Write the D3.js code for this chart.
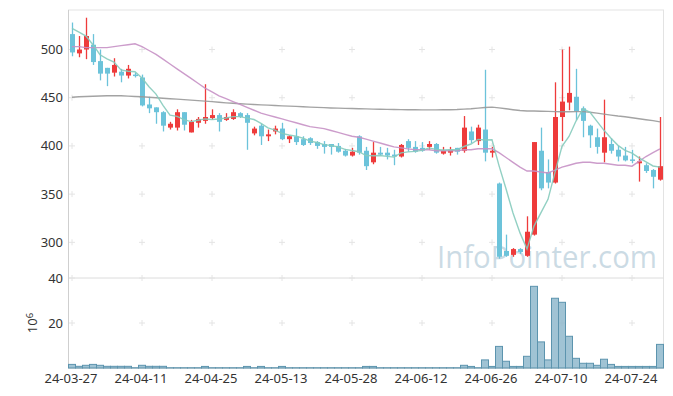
<!DOCTYPE html>
<html>
<head>
<meta charset="utf-8">
<script src="https://cdn.jsdelivr.net/npm/d3@7"></script>
<style>
  body { margin: 0; background: #fff; }
  text { font-family: "Noto Sans", sans-serif; fill: #333; }
</style>
</head>
<body>
<div id="chart"></div>
<script>
// trading days, 24-03-27 .. 24-07-30
const dates = ["24-03-27","24-03-28","24-03-29","24-04-01","24-04-02","24-04-03","24-04-04","24-04-05","24-04-08","24-04-09",
  "24-04-11","24-04-12","24-04-15","24-04-16","24-04-17","24-04-18","24-04-19","24-04-22","24-04-23","24-04-24",
  "24-04-25","24-04-26","24-04-29","24-04-30","24-05-02","24-05-03","24-05-07","24-05-08","24-05-09","24-05-10",
  "24-05-13","24-05-14","24-05-16","24-05-17","24-05-20","24-05-21","24-05-22","24-05-23","24-05-24","24-05-27",
  "24-05-28","24-05-29","24-05-30","24-05-31","24-06-03","24-06-04","24-06-05","24-06-07","24-06-10","24-06-11",
  "24-06-12","24-06-13","24-06-14","24-06-17","24-06-18","24-06-19","24-06-20","24-06-21","24-06-24","24-06-25",
  "24-06-26","24-06-27","24-06-28","24-07-01","24-07-02","24-07-03","24-07-04","24-07-05","24-07-08","24-07-09",
  "24-07-10","24-07-11","24-07-12","24-07-15","24-07-16","24-07-17","24-07-18","24-07-19","24-07-22","24-07-23",
  "24-07-24","24-07-25","24-07-26","24-07-29","24-07-30"];

const open  = [516,496,500,505,488,481,476,477,473,474, 471,443,440,435,419,419,435,414,424,426,
               429,432,427,428,434,432,413,421,410,415, 418,407,410,407,408,404,402,402,400,395,
               390,410,395,383,393,393,391,389,405,399, 398,399,402,392,393,398,395,415,405,417,
               393,361,291,287,293,286,308,395,373,362, 430,445,451,439,421,409,393,402,396,390,
               386,382,380,375,365];
const high  = [528,514,533,516,500,481,491,480,484,476, 474,451,440,436,425,438,435,427,430,464,
               438,434,434,438,435,434,420,423,417,421, 424,411,418,410,409,405,405,402,403,397,
               398,411,399,404,399,398,396,402,407,405, 404,405,403,399,399,398,431,420,422,479,
               399,362,308,294,294,327,404,419,386,466, 500,503,480,441,422,418,448,408,400,399,
               396,389,382,376,430];
const low   = [493,492,490,484,468,462,472,466,470,471, 441,434,423,415,417,416,416,414,419,423,
               427,415,426,427,429,396,411,401,405,412, 406,403,401,400,401,397,392,391,393,389,
               389,391,375,381,390,386,380,388,394,393, 394,396,392,391,390,391,393,403,401,384,
               388,283,285,285,288,285,307,354,356,361, 405,437,427,409,398,392,383,392,384,384,
               382,363,372,356,364];
const close = [497,500,514,487,475,475,484,473,480,473, 442,439,435,421,423,435,422,425,428,430,
               432,425,430,435,430,424,418,410,412,418, 407,410,404,401,403,400,399,399,394,390,
               394,393,379,393,391,390,389,401,398,394, 395,402,393,395,396,394,419,406,419,393,
               395,285,286,293,290,311,404,356,362,430, 446,455,436,426,411,399,409,395,389,385,
               385,384,374,368,379];

// moving averages
const ma5  = [522,518,514,505,494.6,490.2,487,478.8,477.4,477, 470.4,461.4,453.8,442,432,430.6,427.2,425.2,426.6,428,
              427.4,428,429,430.4,430.4,428.8,427.4,423.4,418.8,416.4, 413,411.4,410.2,408,405,403.6,401.4,400.4,399,396.4,
              395.2,394,390,389.8,390,389.2,388.4,392.8,393.8,394.4, 395.4,398,396.4,395.8,396.2,396,399.4,402,406.8,406.2,
              406.4,379.6,355.6,330.4,309.8,293,316.8,330.8,344.6,372.6, 399.6,409.8,425.8,438.6,434.8,425.4,416.2,408,400.6,395.4,
              392.6,387.6,383.4,379.2,378];
const ma20 = [503,503,502,502,502,502,503,504,505,506, 503,499,495,490,485,480,475,470,465,460,
              456,452,449,446,443,440,437,434,432,430, 428,426,424,422,420,419,418,416,414,412,
              410,409,407,405,403,401,399,398,397,396, 396,396,395,395,395,395,396,396,397,397,
              397,393,388,383,378,374,374,373,372,375, 378,380,382,383,383,382,382,381,380,380,
              379,384,389,393,397];
const ma60 = [450.5,451,451.3,451.6,451.8,452,452,452,451.7,451.3, 451,450.5,450,449.5,449,448.5,448,447.5,447,446.5,
              446,445.3,444.7,444.2,443.8,443.4,443,442.6,442.3,442, 441.6,441.3,441,440.6,440.3,440,439.7,439.4,439.2,439,
              438.8,438.6,438.4,438.2,438,437.9,437.8,437.7,437.6,437.5, 437.4,437.4,437.4,437.5,437.6,437.8,438.2,438.6,439.2,439.8,
              440.3,439.5,438.5,437.6,436.8,436.3,436.2,436,435.8,435.6, 435.5,435.5,435.6,435.6,435,434,433,432,431,430.2,
              429.2,428.2,427.2,426.2,425];

// volume, millions of shares
const volume = [1.6,0.75,1.2,1.6,1.2,0.75,0.75,0.75,0.75,0.1, 1.2,0.75,0.75,0.75,0.1,0.1,0.1,0.1,0.1,0.7,
                0.1,0.1,0.1,0.1,0.1,0.7,0.1,0.7,0.1,0.1, 0.7,0.1,0.1,0.1,0.1,0.1,0.1,0.1,0.1,0.1,
                0.1,0.1,0.7,0.7,0.1,0.1,0.1,0.1,0.1,0.1, 0.1,0.1,0.1,0.1,0.1,0.1,1.2,0.7,0.1,3.6,
                0.7,9.6,3.0,0.7,0.7,5.2,36.3,11.6,3.6,31, 29.2,14.1,4.3,2.1,2.1,1.2,3.9,1.6,0.7,0.7,
                0.7,0.7,0.7,0.7,10.5];

const priceTicks = [300, 350, 400, 450, 500];
const volTicks = [20, 40];
const tickEvery = 10;

const width = 673, height = 396;
const left = 68.5, right = 663.5;
const topY = 10, midY = 278, botY = 368;

const svg = d3.select("#chart").append("svg")
    .attr("width", width)
    .attr("height", height);

const x = d3.scaleLinear().domain([-0.5, dates.length - 0.5]).range([left, right]);
const y = d3.scaleLinear().domain([263, 541]).range([midY, topY]);
const yv = d3.scaleLinear().domain([0, 40]).range([botY, midY]);

const tickIdx = d3.range(0, dates.length, tickEvery);

// frames
svg.append("rect")
    .attr("x", left).attr("y", topY)
    .attr("width", right - left).attr("height", botY - topY)
    .attr("fill", "none").attr("stroke", "#e3e3e3");
svg.append("line")
    .attr("x1", left).attr("x2", right).attr("y1", midY).attr("y2", midY)
    .attr("stroke", "#dcdcdc");
svg.append("line")
    .attr("x1", left).attr("x2", left).attr("y1", topY).attr("y2", botY)
    .attr("stroke", "#cfcfcf");
svg.append("line")
    .attr("x1", left).attr("x2", right).attr("y1", botY).attr("y2", botY)
    .attr("stroke", "#cfcfcf");

// small "+" marks at grid crossings
const crosses = [];
tickIdx.forEach(i => {
    priceTicks.forEach(p => crosses.push([x(i), y(p)]));
    volTicks.forEach(v => crosses.push([x(i), yv(v)]));
});
svg.append("g").selectAll("path")
    .data(crosses)
    .join("path")
    .attr("d", d => `M${d[0] - 3},${d[1]}h6M${d[0]},${d[1] - 3}v6`)
    .attr("stroke", "#e4e4e4")
    .attr("stroke-width", 1);

// watermark
svg.append("text")
    .attr("x", 657).attr("y", 268)
    .attr("text-anchor", "end")
    .attr("textLength", 220)
    .attr("lengthAdjust", "spacingAndGlyphs")
    .style("font-family", "'Open Sans', sans-serif")
    .style("font-size", "31px")
    .style("fill", "#a9c3d3")
    .style("fill-opacity", 0.6)
    .text("InfoPointer.com");

// candles
const up = "#ee3b3b", down = "#6cc3da";
const bw = 5;
const candles = svg.append("g").selectAll("g")
    .data(d3.range(dates.length))
    .join("g");
candles.append("line")
    .attr("x1", i => Math.round(x(i)) + 0.5)
    .attr("x2", i => Math.round(x(i)) + 0.5)
    .attr("y1", i => y(high[i]))
    .attr("y2", i => y(low[i]))
    .attr("stroke", i => close[i] >= open[i] ? up : down)
    .attr("stroke-width", 1.3);
candles.append("rect")
    .attr("x", i => Math.round(x(i)) + 0.5 - bw / 2)
    .attr("width", bw)
    .attr("y", i => y(Math.max(open[i], close[i])))
    .attr("height", i => Math.max(1.5, Math.abs(y(open[i]) - y(close[i]))))
    .attr("fill", i => close[i] >= open[i] ? up : down);

// moving averages
const line = arr => d3.line().x((d, i) => x(i)).y(d => y(d))(arr);
svg.append("path").attr("d", line(ma60))
    .attr("fill", "none").attr("stroke", "#999").attr("stroke-width", 1.4).attr("opacity", 0.9);
svg.append("path").attr("d", line(ma20))
    .attr("fill", "none").attr("stroke", "#c791c5").attr("stroke-width", 1.4).attr("opacity", 0.9);
svg.append("path").attr("d", line(ma5))
    .attr("fill", "none").attr("stroke", "#86cbbd").attr("stroke-width", 1.4).attr("opacity", 0.9);

// volume bars
svg.append("g").selectAll("rect")
    .data(volume)
    .join("rect")
    .attr("x", (d, i) => x(i - 0.5))
    .attr("width", x(1) - x(0))
    .attr("y", d => yv(d))
    .attr("height", d => yv(0) - yv(d))
    .attr("fill", "#8fb9cc")
    .attr("fill-opacity", 0.85)
    .attr("stroke", "#5c94ae")
    .attr("stroke-width", 1);

// axes labels
svg.append("g").selectAll("text")
    .data(priceTicks)
    .join("text")
    .attr("x", 63).attr("y", d => y(d))
    .attr("dy", "0.35em")
    .attr("text-anchor", "end")
    .style("font-size", "13px")
    .text(d => d);

svg.append("g").selectAll("text")
    .data(volTicks)
    .join("text")
    .attr("x", 63).attr("y", d => yv(d))
    .attr("dy", "0.35em")
    .attr("text-anchor", "end")
    .style("font-size", "13px")
    .text(d => d);

svg.append("g").selectAll("text")
    .data(tickIdx)
    .join("text")
    .attr("x", i => x(i) - 1)
    .attr("y", 383)
    .attr("text-anchor", "middle")
    .style("font-size", "13px")
    .text(i => dates[i]);

const unit = svg.append("text")
    .attr("transform", "translate(37,323) rotate(-90)")
    .attr("text-anchor", "middle")
    .style("font-size", "13px");
unit.append("tspan").text("10");
unit.append("tspan").attr("dy", "-0.45em").style("font-size", "9.5px").text("6");
</script>
</body>
</html>
